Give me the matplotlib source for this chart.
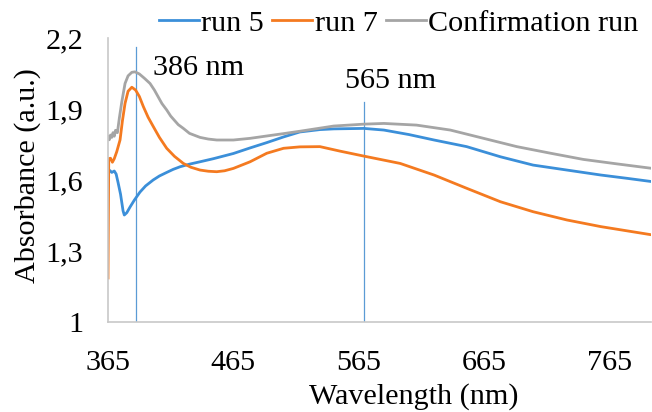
import matplotlib
matplotlib.use("Agg")
import matplotlib.pyplot as plt
from matplotlib.ticker import FixedLocator, FixedFormatter

plt.rcParams['font.family'] = ['Liberation Serif', 'DejaVu Serif']

# ---- data ----
run5_nm = [365, 366.5, 368, 370, 371.5, 373, 375, 377, 378, 380, 382.6, 386, 390.5, 395, 401,
           406, 411.8, 417, 422.5, 430, 438.4, 449, 465, 478, 491.6, 505, 518, 534, 545, 569,
           585, 605, 625, 651, 678, 704, 731, 758, 779, 799]
run5_abs = [1.635, 1.64, 1.632, 1.638, 1.625, 1.59, 1.54, 1.47, 1.452, 1.462, 1.486, 1.515,
            1.549, 1.575, 1.600, 1.617, 1.632, 1.645, 1.656, 1.667, 1.677, 1.69, 1.712, 1.735,
            1.758, 1.782, 1.803, 1.813, 1.816, 1.818, 1.811, 1.792, 1.769, 1.741, 1.698, 1.663,
            1.642, 1.621, 1.607, 1.593]

run7_nm = [365, 365.6, 367, 368.5, 370, 372, 374.6, 376.5, 378.6, 381, 384, 387, 390, 393.2,
           397, 401.2, 406, 411.8, 418, 425.1, 431, 438.4, 445, 451.7, 458, 465, 478.3, 491.6,
           505, 518, 534, 550, 569, 598, 625, 651, 678, 704, 731, 758, 799]
run7_abs = [1.186, 1.69, 1.692, 1.675, 1.69, 1.72, 1.769, 1.85, 1.924, 1.975, 1.992, 1.98,
            1.953, 1.910, 1.865, 1.825, 1.78, 1.734, 1.70, 1.670, 1.654, 1.642, 1.637, 1.635,
            1.639, 1.649, 1.677, 1.713, 1.734, 1.740, 1.741, 1.722, 1.701, 1.670, 1.621, 1.565,
            1.508, 1.466, 1.431, 1.403, 1.368]

conf_nm = [365, 366, 367, 368, 369, 370, 371, 372.5, 374, 376, 378.6, 381, 384, 386.5, 390, 394,
           398.5, 402, 408, 411.8, 415, 421, 425.1, 430, 438.4, 445, 451.7, 465, 478.3, 491.6,
           505, 518, 545, 569, 585, 611, 638, 664.5, 691, 718, 744, 771, 799]
conf_abs = [1.783, 1.77, 1.79, 1.78, 1.80, 1.785, 1.81, 1.80, 1.86, 1.93, 2.008, 2.04, 2.055,
            2.057, 2.048, 2.03, 2.008, 1.98, 1.923, 1.896, 1.870, 1.834, 1.818, 1.797, 1.780,
            1.773, 1.769, 1.769, 1.776, 1.786, 1.796, 1.806, 1.828, 1.836, 1.839, 1.832, 1.811,
            1.776, 1.741, 1.713, 1.687, 1.668, 1.649]

series_labels = ["run 5", "run 7", "Confirmation run"]
peak_line_nm = [387.7, 569.3]
peak_line_top = [2.16, 1.929]
peak_labels = ["386 nm", "565 nm"]
peak_label_x = [401, 554]
peak_label_y = [2.073, 2.018]

x_ticks = [365, 465, 565, 665, 765]
x_ticklabels = ["365", "465", "565", "665", "765"]
y_ticks = [1.0, 1.3, 1.6, 1.9, 2.2]
y_ticklabels = ["1", "1,3", "1,6", "1,9", "2,2"]

# ---- figure ----
W, H = 652, 412
FS = 21.7
fig = plt.figure(figsize=(W / 100, H / 100), dpi=100)
ax = fig.add_axes([108 / W, 1 - 322 / H, (651 - 108) / W, (322 - 38) / H])

colors = ["#3B8FD9", "#F47A20", "#A5A5A5"]
lw = 2.0
l1, = ax.plot(run5_nm, run5_abs, color=colors[0], lw=lw, label=series_labels[0])
l2, = ax.plot(run7_nm, run7_abs, color=colors[1], lw=lw, label=series_labels[1])
l3, = ax.plot(conf_nm, conf_abs, color=colors[2], lw=lw, label=series_labels[2])

for xv, top in zip(peak_line_nm, peak_line_top):
    ax.plot([xv, xv], [1.0, top], color="#5B9BD5", lw=0.9, zorder=1)
for lab, xv, yv in zip(peak_labels, peak_label_x, peak_label_y):
    ax.text(xv, yv, lab, fontsize=FS, ha="left", va="center")

ax.set_xlim(365, 798)
ax.set_ylim(1.0, 2.2)
ax.xaxis.set_major_locator(FixedLocator(x_ticks))
ax.xaxis.set_major_formatter(FixedFormatter(x_ticklabels))
ax.yaxis.set_major_locator(FixedLocator(y_ticks))
ax.yaxis.set_major_formatter(FixedFormatter(y_ticklabels))
ax.tick_params(axis="both", length=0, labelsize=FS)
ax.tick_params(axis="x", pad=20)
ax.tick_params(axis="y", pad=18)

for s in ["top", "right"]:
    ax.spines[s].set_visible(False)
for s in ["left", "bottom"]:
    ax.spines[s].set_color("#C8C8C8")
    ax.spines[s].set_linewidth(1.2)

fig.text(414 / W, 1 - 397 / H, "Wavelength (nm)", fontsize=FS, ha="center", va="center")
fig.text(28 / W, 1 - 176 / H, "Absorbance (a.u.)", fontsize=FS, ha="center", va="center",
         rotation=90)

fig.legend(handles=[l1, l2, l3], loc="center left", bbox_to_anchor=(159 / W, 1 - 23 / H),
           ncol=3, frameon=False, fontsize=FS, handlelength=1.33, handletextpad=0.08,
           columnspacing=0.27, borderpad=0, borderaxespad=0)

fig.savefig("out.png", dpi=100)
